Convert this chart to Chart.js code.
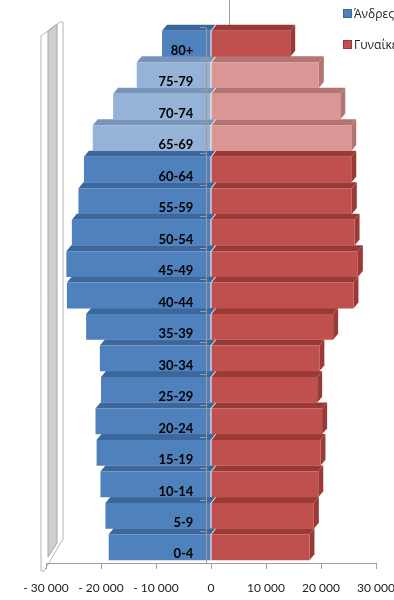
<!DOCTYPE html>
<html>
<head>
<meta charset="utf-8">
<script src="https://cdn.jsdelivr.net/npm/chart.js@4"></script>
<style>
  html, body { margin: 0; padding: 0; background: #fff; overflow: hidden; }
  #wrap { position: relative; width: 394px; height: 600px; overflow: hidden; }
  #legend { position: absolute; left: 343px; top: 6px; font-family: "Open Sans", "Noto Sans", sans-serif; font-size: 12px; color: #222; white-space: nowrap; }
  #legend div { height: 31px; line-height: 16px; }
  #legend span.box { display: inline-block; width: 7px; height: 7px; margin-right: 2px; vertical-align: 0px; }
</style>
</head>
<body>
<div id="wrap">
  <canvas id="myChart" width="394" height="600"></canvas>
  <div id="legend"></div>
</div>
<script>
// age groups, bottom to top
const ages = ["0-4", "5-9", "10-14", "15-19", "20-24", "25-29", "30-34", "35-39",
  "40-44", "45-49", "50-54", "55-59", "60-64", "65-69", "70-74", "75-79", "80+"];
const men = [18600, 19200, 20100, 20800, 21000, 20000, 20200, 22700,
  26200, 26300, 25300, 24100, 23100, 21500, 17800, 13500, 8900];
const women = [17900, 18700, 19500, 19900, 20200, 19300, 19700, 22200,
  25900, 26700, 26100, 25600, 25500, 25500, 23500, 19600, 14400];
const seriesNames = ["Άνδρες", "Γυναίκες"];
const xTicks = [-30000, -20000, -10000, 0, 10000, 20000, 30000];
const lightAges = ["65-69", "70-74", "75-79"];

const blue = "#4F81BD", blueLight = "#95B3D7";
const red = "#C0504D", redLight = "#D99694";
const shade = {
  "#4F81BD": "#3B679C", "#95B3D7": "#7894BA",
  "#C0504D": "#9A3A37", "#D99694": "#B47472"
};

const menColors = ages.map(a => lightAges.includes(a) ? blueLight : blue);
const womenColors = ages.map(a => lightAges.includes(a) ? redLight : red);

function fmt(v) {
  const s = String(Math.abs(v)).replace(/\B(?=(\d{3})+(?!\d))/g, " ");
  return v < 0 ? "- " + s : s;
}

const dx = 5, dy = 6;

// fake 3d: top and side faces behind each bar
const depth3d = {
  id: "depth3d",
  beforeDatasetsDraw(chart) {
    const ctx = chart.ctx;
    ctx.save();
    chart.data.datasets.forEach((ds, di) => {
      const meta = chart.getDatasetMeta(di);
      meta.data.forEach((bar, i) => {
        const p = bar.getProps(["x", "y", "base", "height"], true);
        const left = Math.min(p.x, p.base), right = Math.max(p.x, p.base);
        const top = p.y - p.height / 2, bottom = p.y + p.height / 2;
        ctx.fillStyle = shade[ds.backgroundColor[i]];
        ctx.beginPath();
        ctx.moveTo(left, top);
        ctx.lineTo(left + dx, top - dy);
        ctx.lineTo(right + dx, top - dy);
        ctx.lineTo(right, top);
        ctx.closePath();
        ctx.fill();
        if (di === 1) {
          ctx.beginPath();
          ctx.moveTo(right, top);
          ctx.lineTo(right + dx, top - dy);
          ctx.lineTo(right + dx, bottom - dy);
          ctx.lineTo(right, bottom);
          ctx.closePath();
          ctx.fill();
        }
      });
    });
    ctx.restore();
  }
};

// side wall on the left and back line at the top
const walls = {
  id: "walls",
  beforeDraw(chart) {
    const ctx = chart.ctx;
    const a = chart.chartArea;
    const l = a.left - 5;
    ctx.save();
    ctx.lineWidth = 1;
    ctx.fillStyle = "#fff";
    ctx.strokeStyle = "#b5b5b5";
    ctx.beginPath();
    ctx.moveTo(l, a.top + 8);
    ctx.lineTo(l + 19, a.top - 6);
    ctx.lineTo(l + 22, a.top - 6);
    ctx.lineTo(l + 22, a.bottom - 24);
    ctx.lineTo(l + 3, a.bottom + 8);
    ctx.lineTo(l, a.bottom + 8);
    ctx.closePath();
    ctx.fill();
    ctx.stroke();
    ctx.fillStyle = "#cfcfcf";
    ctx.strokeStyle = "#a5a5a5";
    ctx.beginPath();
    ctx.moveTo(l + 7, a.top + 3);
    ctx.lineTo(l + 16, a.top - 4);
    ctx.lineTo(l + 16, a.bottom - 20);
    ctx.lineTo(l + 7, a.bottom - 6);
    ctx.closePath();
    ctx.fill();
    ctx.stroke();
    const zx = chart.scales.x.getPixelForValue(0);
    ctx.strokeStyle = "#a0a0a0";
    ctx.beginPath();
    ctx.moveTo(zx + 18.5, 0);
    ctx.lineTo(zx + 18.5, a.top);
    ctx.stroke();
    ctx.restore();
  }
};

const ctx = document.getElementById("myChart");

const chart = new Chart(ctx, {
  type: "bar",
  data: {
    labels: ages,
    datasets: [
      {
        label: seriesNames[0],
        data: men.map(v => -v),
        backgroundColor: menColors,
        borderWidth: 0,
        barPercentage: 0.82,
        categoryPercentage: 1
      },
      {
        label: seriesNames[1],
        data: women,
        backgroundColor: womenColors,
        borderWidth: 0,
        barPercentage: 0.82,
        categoryPercentage: 1
      }
    ]
  },
  options: {
    indexAxis: "y",
    responsive: false,
    animation: false,
    layout: { padding: { left: 46, right: 18, top: 28, bottom: 4 } },
    plugins: { legend: { display: false }, tooltip: { enabled: false } },
    scales: {
      x: {
        stacked: true,
        min: -30000,
        max: 30000,
        afterBuildTicks: axis => { axis.ticks = xTicks.map(v => ({ value: v })); },
        afterFit: s => { s.height = 33; s.paddingLeft = 0; s.paddingRight = 0; },
        grid: { drawOnChartArea: false, tickLength: 6, color: "#a0a0a0" },
        border: { color: "#a0a0a0" },
        ticks: {
          callback: v => fmt(v),
          color: "#222",
          padding: 12,
          maxRotation: 0,
          font: { family: "Lato, 'Open Sans', sans-serif", size: 12 }
        }
      },
      y: {
        stacked: true,
        reverse: true,
        // axis sits a little in front of the bars, as in the 3d original
        position: { x: -900 },
        grid: { drawOnChartArea: false, tickLength: 6, color: "#9a9a9a", offset: true, z: 1 },
        border: { color: "#9a9a9a", z: 1 },
        ticks: {
          z: 1,
          callback: function (v) { return this.getLabelForValue(v) + "    "; },
          color: "#000",
          labelOffset: 7,
          font: { family: "Lato, 'Open Sans', sans-serif", size: 13, weight: "bold" }
        }
      }
    }
  },
  plugins: [walls, depth3d]
});

// legend
const legend = document.getElementById("legend");
chart.data.datasets.forEach((ds, i) => {
  const row = document.createElement("div");
  const c = i === 0 ? blue : red;
  row.innerHTML = '<span class="box" style="background:' + c + ';border:1px solid ' + shade[c] + '"></span>' + ds.label;
  legend.appendChild(row);
});
</script>
</body>
</html>
